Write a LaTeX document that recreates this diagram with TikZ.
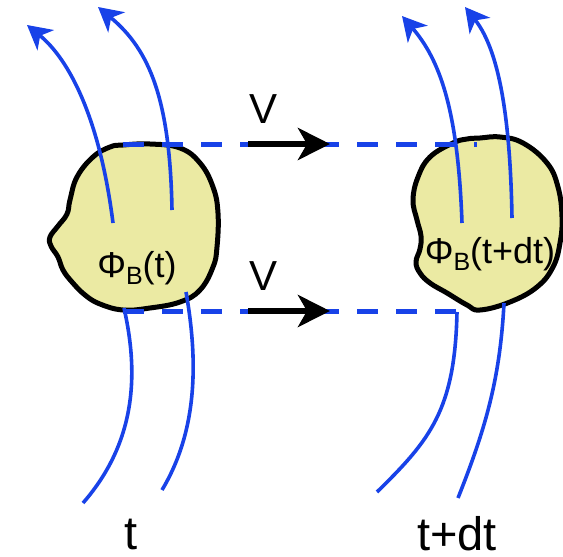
\documentclass[tikz,border=0pt]{standalone}
\usepackage{fontspec}
\setmainfont{Liberation Sans}
\usetikzlibrary{arrows.meta}
\definecolor{fluxblue}{RGB}{24,66,232}
\definecolor{surface}{RGB}{235,234,163}
\newcommand{\fluxsym}{Φ\raisebox{-7pt}{\fontsize{25}{25}\selectfont B}}

\begin{document}
\begin{tikzpicture}[x=1pt, y=-1pt,
  blob/.style={draw=black, line width=5pt, fill=surface, line join=round},
  fieldline/.style={draw=fluxblue, line width=3.6pt, -{Stealth[length=24pt, width=26pt, inset=7pt]}},
  fieldend/.style={draw=fluxblue, line width=3.6pt},
  track/.style={draw=fluxblue, line width=5pt, dash pattern=on 21pt off 18pt},
  motion/.style={draw=black, line width=6pt, -{Stealth[length=32pt, width=32pt, inset=9pt]}},
  vlbl/.style={font=\fontsize{42}{42}\selectfont, inner sep=0pt, anchor=base},
  flux/.style={font=\fontsize{36}{36}\selectfont, inner sep=0pt, anchor=base},
  time/.style={font=\fontsize{47}{47}\selectfont, inner sep=0pt, anchor=base},
]
\useasboundingbox (0,0) rectangle (563,557);

\draw[blob] plot[smooth cycle, tension=0.7] coordinates {
  (123,145) (150,144) (180,148) (200,163) (213,187) (218,213) (217,247)
  (213,267) (200,290) (180,302) (150,308) (123,310) (100,304) (85,295)
  (72,282) (63,270) (58,257) (51,246) (50,237) (58,226) (67,214) (70,200)
  (77,177) (93,157) (110,147)};
\draw[blob] plot[smooth cycle, tension=0.7] coordinates {
  (480,138) (500,137) (523,143) (547,163) (558,187) (562,217) (560,243)
  (553,267) (537,287) (510,302) (480,310) (467,305) (447,293) (430,283)
  (420,273) (416,262) (420,249) (421,236) (417,220) (413,200) (418,177)
  (430,157) (453,143) (467,139)};

\coordinate (topL)  at (123,144);
\coordinate (topR)  at (477,144);
\coordinate (botL)  at (123,311);
\coordinate (botR)  at (465,311);
\coordinate (vtopA) at (248,144);
\coordinate (vtopB) at (330,144);
\coordinate (vbotA) at (248,311);
\coordinate (vbotB) at (330,311);

\draw[track] (topL) -- (topR);
\draw[track] (botL) -- (botR);
\draw[motion] (vtopA) -- (vtopB);
\draw[motion] (vbotA) -- (vbotB);

\coordinate (inA) at (113,223);  \coordinate (outA) at (27,25);
\coordinate (inB) at (172,210);  \coordinate (outB) at (98,7);
\coordinate (inC) at (462,223);  \coordinate (outC) at (402,16);
\coordinate (inD) at (512,218);  \coordinate (outD) at (465,7);
\draw[fieldline] (inA) .. controls (100,120) and (70,60) .. (outA);
\draw[fieldline] (inB) .. controls (170,100) and (150,50) .. (outB);
\draw[fieldline] (inC) .. controls (458,110) and (440,60) .. (outC);
\draw[fieldline] (inD) .. controls (510,100) and (495,45) .. (outD);

\coordinate (lowA) at (124,308);  \coordinate (endA) at (83,503);
\coordinate (lowB) at (186,292);  \coordinate (endB) at (162,490);
\coordinate (lowC) at (457,312);  \coordinate (endC) at (377,492);
\coordinate (lowD) at (504,303);  \coordinate (endD) at (458,498);
\draw[fieldend] (lowA) .. controls (138,370) and (138,440) .. (endA);
\draw[fieldend] (lowB) .. controls (198,360) and (198,430) .. (endB);
\draw[fieldend] (lowC) .. controls (455,410) and (430,440) .. (endC);
\draw[fieldend] (lowD) .. controls (500,380) and (485,430) .. (endD);

\node[vlbl] (vtop)  at (264,123) {V};
\node[vlbl] (vbot)  at (264,290) {V};
\node[flux] (fluxt) at (137,277) {\fluxsym(t)};
\node[flux] (fluxdt) at (490,263) {\fluxsym(t+dt)};
\node[time] (tnow)  at (131,549) {t};
\node[time] (tnext) at (457,550) {t+dt};
\end{tikzpicture}
\end{document}
